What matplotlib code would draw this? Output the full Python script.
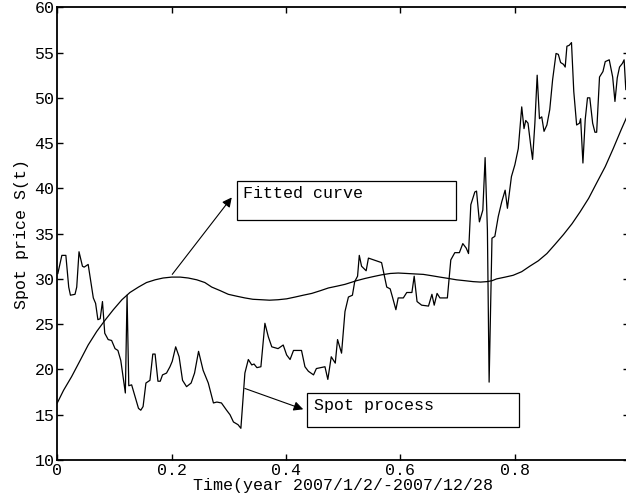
import matplotlib
matplotlib.use("Agg")
import matplotlib.pyplot as plt
from matplotlib.patches import Rectangle

plt.rcParams['font.family'] = ['Liberation Mono', 'DejaVu Sans Mono']

# spot price path (time in years, price)
spot_t = [0.001, 0.008, 0.015, 0.020, 0.023, 0.031, 0.034, 0.038, 0.044, 0.047,
          0.054, 0.060, 0.063, 0.067, 0.071, 0.075, 0.079, 0.083, 0.089, 0.095,
          0.101, 0.106, 0.111, 0.115, 0.119, 0.122, 0.125, 0.130, 0.136, 0.142,
          0.146, 0.150, 0.155, 0.162, 0.167, 0.171, 0.176, 0.180, 0.184, 0.191,
          0.197, 0.201, 0.207, 0.213, 0.219, 0.226, 0.234, 0.240, 0.247, 0.255,
          0.264, 0.273, 0.279, 0.287, 0.296, 0.302, 0.308, 0.316, 0.321, 0.328,
          0.334, 0.340, 0.344, 0.349, 0.356, 0.363, 0.369, 0.375, 0.386, 0.395,
          0.401, 0.407, 0.413, 0.427, 0.433, 0.439, 0.448, 0.453, 0.468, 0.473,
          0.479, 0.486, 0.490, 0.497, 0.503, 0.509, 0.516, 0.520, 0.525, 0.528,
          0.532, 0.540, 0.544, 0.567, 0.576, 0.582, 0.586, 0.592, 0.596, 0.605,
          0.611, 0.620, 0.624, 0.629, 0.637, 0.649, 0.655, 0.659, 0.664, 0.669,
          0.682, 0.688, 0.695, 0.703, 0.709, 0.715, 0.719, 0.723, 0.730, 0.733,
          0.738, 0.744, 0.748, 0.752, 0.755, 0.760, 0.765, 0.771, 0.777, 0.783,
          0.787, 0.794, 0.800, 0.806, 0.812, 0.816, 0.819, 0.823, 0.828, 0.831,
          0.835, 0.839, 0.843, 0.847, 0.851, 0.856, 0.861, 0.866, 0.872, 0.876,
          0.880, 0.885, 0.888, 0.891, 0.895, 0.899, 0.903, 0.908, 0.913, 0.915,
          0.919, 0.923, 0.927, 0.931, 0.936, 0.940, 0.943, 0.948, 0.954, 0.958,
          0.965, 0.971, 0.975, 0.979, 0.983, 0.988, 0.991, 0.994, 1.000]
spot_s = [30.6, 32.6, 32.6, 29.1, 28.2, 28.3, 29.1, 33.0, 31.4, 31.3,
          31.6, 29.1, 27.9, 27.3, 25.5, 25.6, 27.5, 24.0, 23.3, 23.2,
          22.3, 22.1, 21.0, 19.2, 17.4, 28.2, 18.2, 18.3, 17.0, 15.7,
          15.5, 15.9, 18.5, 18.8, 21.7, 21.7, 18.7, 18.7, 19.4, 19.6,
          20.3, 20.9, 22.5, 21.4, 18.8, 18.1, 18.5, 19.6, 22.0, 19.9,
          18.5, 16.3, 16.4, 16.3, 15.5, 15.0, 14.2, 13.9, 13.5, 19.6,
          21.1, 20.5, 20.6, 20.2, 20.3, 25.1, 23.6, 22.5, 22.3, 22.7,
          21.6, 21.1, 22.1, 22.1, 20.3, 19.8, 19.4, 20.1, 20.3, 18.9,
          21.4, 20.7, 23.3, 21.8, 26.4, 28.0, 28.2, 29.7, 30.3, 32.6,
          31.4, 30.9, 32.3, 31.8, 29.1, 28.9, 28.0, 26.6, 27.9, 27.9,
          28.5, 28.5, 30.3, 27.5, 27.1, 27.0, 28.3, 27.1, 28.4, 27.9,
          27.9, 32.1, 32.9, 32.9, 33.9, 33.4, 32.8, 38.2, 39.6, 39.7,
          36.3, 37.6, 43.4, 35.4, 18.6, 34.5, 34.7, 36.9, 38.5, 39.8,
          37.8, 41.3, 42.6, 44.4, 49.0, 46.6, 47.5, 47.2, 44.6, 43.2,
          47.2, 52.5, 47.7, 47.9, 46.3, 47.0, 48.7, 52.0, 54.9, 54.8,
          53.9, 53.7, 53.4, 55.7, 55.8, 56.1, 50.7, 47.0, 47.2, 47.7,
          42.8, 47.6, 50.0, 50.0, 47.2, 46.2, 46.2, 52.3, 52.9, 54.0,
          54.2, 52.3, 49.6, 52.2, 53.4, 53.8, 54.2, 50.9, 51.0]

# fitted curve
fit_t = [0.0, 0.011, 0.025, 0.040, 0.054, 0.069, 0.083, 0.098, 0.113, 0.127,
         0.142, 0.156, 0.171, 0.185, 0.200, 0.215, 0.229, 0.244, 0.258, 0.270,
         0.285, 0.299, 0.313, 0.328, 0.342, 0.357, 0.371, 0.386, 0.401, 0.416,
         0.430, 0.445, 0.460, 0.474, 0.489, 0.503, 0.523, 0.538, 0.552, 0.567,
         0.582, 0.596, 0.611, 0.625, 0.640, 0.655, 0.669, 0.684, 0.698, 0.713,
         0.727, 0.740, 0.751, 0.760, 0.768, 0.783, 0.797, 0.812, 0.826, 0.841,
         0.856, 0.870, 0.885, 0.900, 0.914, 0.929, 0.943, 0.958, 0.972, 0.986,
         1.000]
fit_s = [16.3, 17.7, 19.2, 21.0, 22.7, 24.2, 25.4, 26.6, 27.7, 28.5,
         29.1, 29.6, 29.9, 30.1, 30.2, 30.2, 30.1, 29.9, 29.6, 29.1,
         28.7, 28.3, 28.1, 27.9, 27.75, 27.7, 27.65, 27.7, 27.8, 28.0,
         28.2, 28.4, 28.7, 29.0, 29.2, 29.4, 29.8, 30.05, 30.25, 30.45,
         30.6, 30.65, 30.6, 30.55, 30.5, 30.35, 30.2, 30.05, 29.9, 29.8,
         29.7, 29.65, 29.7, 29.8, 30.0, 30.2, 30.4, 30.8, 31.4, 32.0,
         32.8, 33.8, 34.9, 36.1, 37.4, 38.9, 40.6, 42.4, 44.4, 46.5,
         48.5]

x_ticks = [0, 0.2, 0.4, 0.6, 0.8]
x_labels = ['0', '0.2', '0.4', '0.6', '0.8']
y_ticks = [10, 15, 20, 25, 30, 35, 40, 45, 50, 55, 60]

fig = plt.figure(figsize=(6.26, 5.03), dpi=100)
# axes run past the right edge of the picture, as in the original screenshot
ax = fig.add_axes([0.0915, 0.0855, 0.9137, 0.900])

ax.plot(spot_t, spot_s, color='black', lw=0.9)
ax.plot(fit_t, fit_s, color='black', lw=0.9)

ax.set_xlim(0, 1)
ax.set_ylim(10, 60)
ax.set_xticks(x_ticks)
ax.set_xticklabels(x_labels)
ax.set_yticks(y_ticks)
ax.tick_params(direction='in', top=True, right=True, length=4, width=1,
               labelsize=12, pad=2)
for sp in ax.spines.values():
    sp.set_linewidth(1.3)

ax.set_xlabel('Time(year 2007/1/2/-2007/12/28', fontsize=12, labelpad=0)
ax.set_ylabel('Spot price S(t)', fontsize=12, labelpad=4)

# text boxes with arrows
ax.add_patch(Rectangle((0.314, 36.5), 0.383, 4.3, fill=False, lw=0.9, ec='black'))
ax.text(0.325, 39.4, 'Fitted curve', fontsize=12, va='center')
ax.annotate('', xy=(0.305, 39.0), xytext=(0.201, 30.5),
            arrowprops=dict(arrowstyle='-|>', color='black', lw=0.8,
                            mutation_scale=14, shrinkA=0, shrinkB=0))

ax.add_patch(Rectangle((0.436, 13.6), 0.371, 3.8, fill=False, lw=0.9, ec='black'))
ax.text(0.448, 16.0, 'Spot process', fontsize=12, va='center')
ax.annotate('', xy=(0.430, 15.6), xytext=(0.328, 17.9),
            arrowprops=dict(arrowstyle='-|>', color='black', lw=0.8,
                            mutation_scale=14, shrinkA=0, shrinkB=0))

fig.savefig('out.png', dpi=100)
